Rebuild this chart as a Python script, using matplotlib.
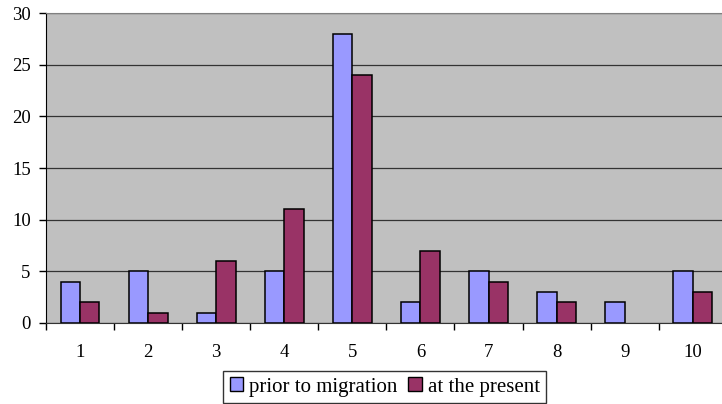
import numpy as np
import matplotlib.pyplot as plt
from matplotlib.patches import Patch

plt.rcParams['font.family'] = ['Liberation Serif', 'DejaVu Serif']

# ---------------- DATA ----------------
categories = ['1', '2', '3', '4', '5', '6', '7', '8', '9', '10']
prior = [4, 5, 1, 5, 28, 2, 5, 3, 2, 5]
present = [2, 1, 6, 11, 24, 7, 4, 2, 0, 3]
yticks = [0, 5, 10, 15, 20, 25, 30]

# ---------------- PLOT ----------------
fig = plt.figure(figsize=(7.22, 4.04), dpi=100)
ax = fig.add_axes([0.0637, 0.2005, 0.943, 0.7673])
ax.set_facecolor('#C0C0C0')

x = np.arange(len(categories))
w = 0.285
# empty bars get no outline
lw_prior = [1.1 if v else 0 for v in prior]
lw_present = [1.1 if v else 0 for v in present]
ax.bar(x - w / 2, prior, w, color='#9999FF', edgecolor='black', linewidth=lw_prior, zorder=3)
ax.bar(x + w / 2, present, w, color='#993366', edgecolor='black', linewidth=lw_present, zorder=3)

ax.set_xlim(-0.5, len(categories) - 0.5)
ax.set_ylim(0, 30)
ax.set_yticks(yticks)
ax.set_yticklabels([str(v) for v in yticks], fontsize=13.5)
ax.yaxis.grid(True, color='#333333', linewidth=0.9, zorder=0)
ax.set_axisbelow(True)

# category labels centred, tick marks on the boundaries
ax.set_xticks(x)
ax.set_xticklabels(categories, fontsize=13.5)
ax.tick_params(axis='x', which='major', length=0, pad=15)
ax.set_xticks(np.arange(len(categories) + 1) - 0.5, minor=True)
ax.tick_params(axis='x', which='minor', length=5, width=1, direction='out')
ax.tick_params(axis='y', length=5, width=1, direction='out', pad=6)

ax.spines['top'].set_color('#808080')
ax.spines['right'].set_visible(False)
ax.spines['left'].set_color('black')
ax.spines['bottom'].set_color('#333333')

handles = [Patch(facecolor='#9999FF', edgecolor='black', label='prior to migration'),
           Patch(facecolor='#993366', edgecolor='black', label='at the present')]
leg = fig.legend(handles=handles, loc='lower center', bbox_to_anchor=(0.533, 0.0),
                 ncol=2, fontsize=15, frameon=True, fancybox=False,
                 edgecolor='black', handlelength=0.65, handleheight=0.65,
                 handletextpad=0.3, columnspacing=0.5, borderpad=0.3,
                 borderaxespad=0.05)
leg.get_frame().set_linewidth(1.0)

plt.savefig('out.png', dpi=100)
